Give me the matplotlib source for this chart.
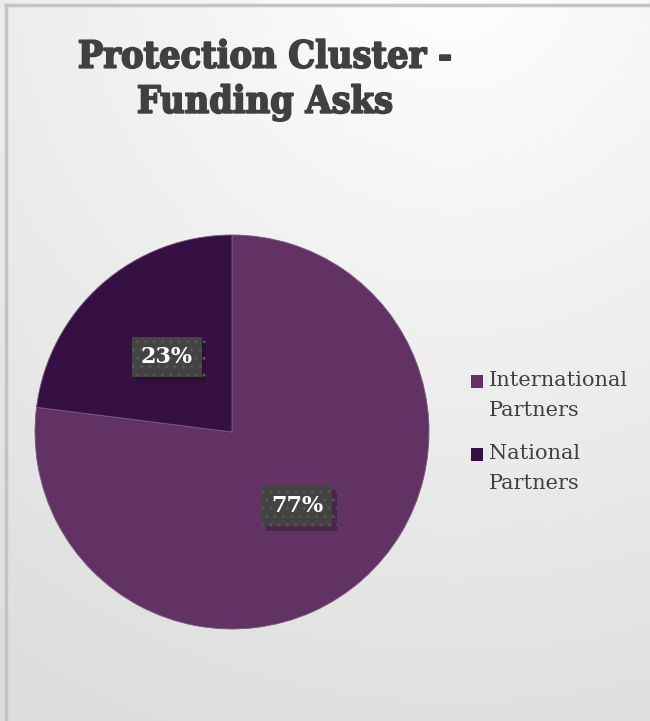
import numpy as np
import matplotlib.pyplot as plt
import matplotlib.patheffects as pe
from matplotlib.patches import Rectangle

labels = ['International\nPartners', 'National\nPartners']
shares = [77, 23]
colors = ['#633264', '#361042']

W, H = 650, 721
fig = plt.figure(figsize=(6.5, 7.21), dpi=100)

# background: soft gradient, near white at top, grey towards the bottom-left
bg = fig.add_axes([0, 0, 1, 1])
yy, xx = np.mgrid[1:0:300j, 0:1:300j]
d = np.hypot((xx - 0.7) * 0.9, (yy - 1.05))
g = np.clip(1.0 - 0.115 * d, 0.87, 1.0)
bg.imshow(np.dstack([g, g, g]), extent=[0, 1, 0, 1], aspect='auto')
bg.plot([6 / W, 6 / W], [0, 1 - 5 / H], color='#c4c4c4', lw=2.5)
bg.plot([6 / W, 1], [1 - 5 / H, 1 - 5 / H], color='#c4c4c4', lw=2.5)
bg.set_xlim(0, 1)
bg.set_ylim(0, 1)
bg.axis('off')

fig.text(265 / W, 1 - 80 / H, 'Protection Cluster -\nFunding Asks', ha='center', va='center',
         fontsize=27, fontweight='heavy', family='DejaVu Serif', color='#404040',
         linespacing=1.28, fontstretch='condensed',
         path_effects=[pe.withStroke(linewidth=1.3, foreground='#404040')])

# pie, centre ~ (232, 432) px, radius ~197 px
r = 197
ax = fig.add_axes([(232 - r) / W, 1 - (432 + r) / H, 2 * r / W, 2 * r / H])
wedges, _ = ax.pie(shares, colors=colors, startangle=90, counterclock=False,
                   wedgeprops=dict(linewidth=0.6, edgecolor='#7a5a80'))
ax.set_xlim(-1, 1)
ax.set_ylim(-1, 1)
ax.set_aspect('auto')

label_pos = [(0.33, -0.376), (-0.33, 0.38)]
for (lx, ly), v in zip(label_pos, shares):
    t = ax.text(lx, ly, f'{v}%', ha='center', va='center', fontsize=16, fontweight='bold',
                family='DejaVu Serif', color='white',
                bbox=dict(boxstyle='square,pad=0.42', facecolor='#434343',
                          edgecolor='#555555', hatch='..', linewidth=0))
    t.get_bbox_patch().set_path_effects([pe.SimplePatchShadow(offset=(3, -3), alpha=0.35),
                                         pe.Normal()])

# legend: square aligned with the first line of each two-line label
for i, (lab, c) in enumerate(zip(labels, colors)):
    top = 375 + i * 73
    fig.add_artist(Rectangle((471 / W, 1 - (top + 13) / H), 12 / W, 13 / H,
                             transform=fig.transFigure, facecolor=c, edgecolor='none'))
    fig.text(489 / W, 1 - (top - 4) / H, lab, ha='left', va='top', fontsize=15,
             family='DejaVu Serif', color='#404040', linespacing=1.75)

fig.savefig('out.png', dpi=100)
